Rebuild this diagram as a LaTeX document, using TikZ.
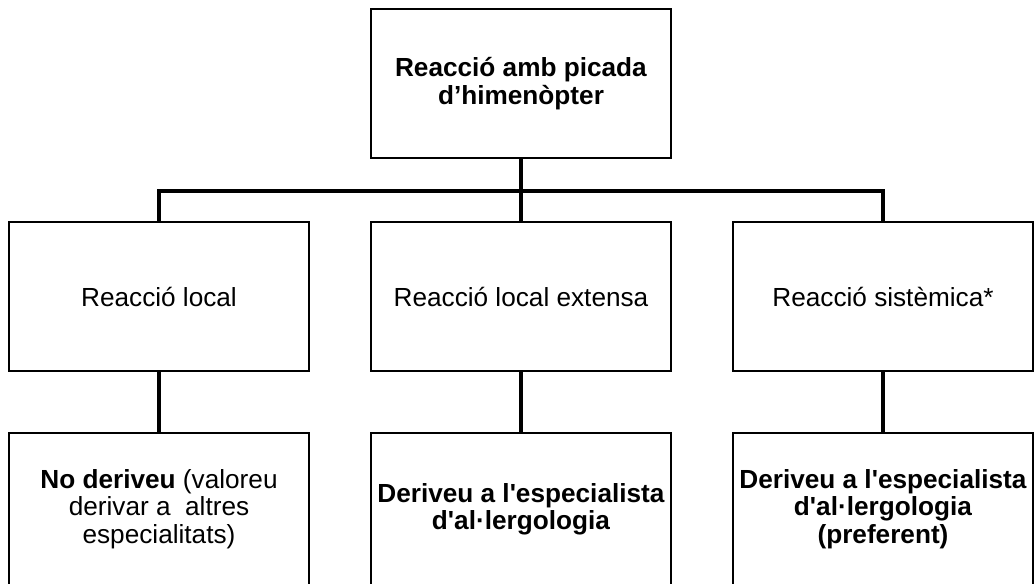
\documentclass[tikz,border=0pt]{standalone}
\usepackage{fontspec}
\setmainfont{Liberation Sans}[Ligatures=TeXOff]
\begin{document}
\begin{tikzpicture}[
  box/.style={draw,line width=0.04cm,minimum width=6cm,minimum height=2.98cm,inner sep=0pt,align=center,font=\fontsize{14.9}{15.6}\selectfont},
  lowbox/.style={box,minimum height=3.04cm},
  conn/.style={line width=0.08cm,line join=miter}]
  \useasboundingbox (0,0) rectangle (20.7,-11.66);
  \clip (0,0) rectangle (20.7,-11.66);
  \node[box] (top) at (10.42,-1.67) {\textbf{Reacció amb picada}\\\textbf{d’himenòpter}};
  \coordinate (bar) at (0,-3.81);
  \node[box] (local) at (3.18,-5.93) {Reacció local};
  \node[box] (extensa) at (10.42,-5.93) {Reacció local extensa};
  \node[box] (sistem) at (17.66,-5.93) {Reacció sistèmica*};
  \node[lowbox] (noderiv) at (3.18,-10.18) {\textbf{No deriveu} (valoreu\\derivar a\ \ altres\\especialitats)};
  \node[lowbox] (deriv) at (10.42,-10.18) {\textbf{Deriveu a l'especialista}\\\textbf{d'al·lergologia}};
  \node[lowbox] (derivpref) at (17.66,-10.18) {\textbf{Deriveu a l'especialista}\\\textbf{d'al·lergologia}\\\textbf{(preferent)}};
  \draw[conn] (top.south)--(extensa.north);
  \draw[conn] (local.north)--(local.north |- bar)--(sistem.north |- bar)--(sistem.north);
  \draw[conn] (local.south)--(noderiv.north);
  \draw[conn] (extensa.south)--(deriv.north);
  \draw[conn] (sistem.south)--(derivpref.north);
\end{tikzpicture}
\end{document}
